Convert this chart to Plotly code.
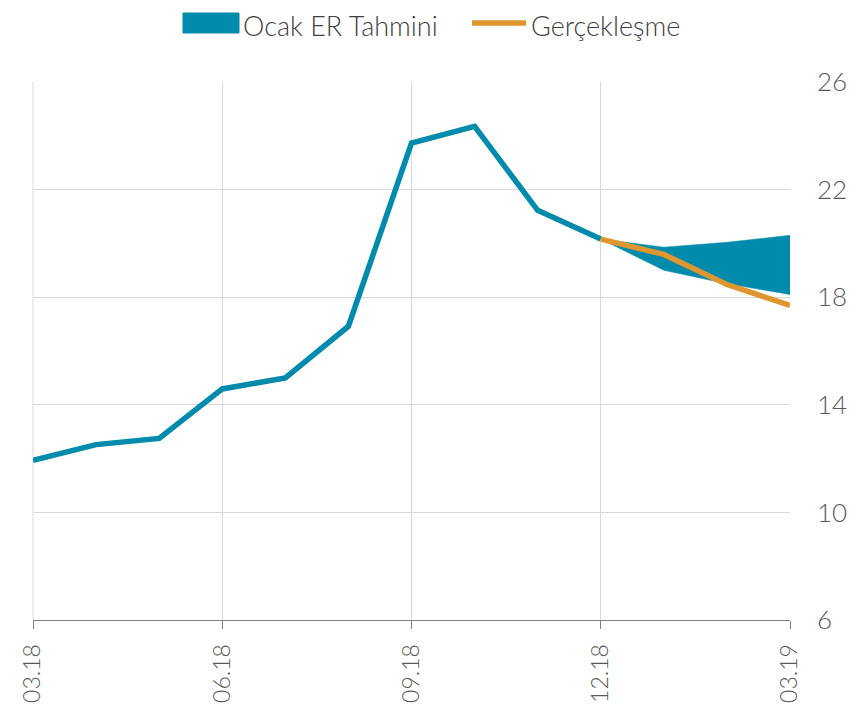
import plotly.graph_objects as go

months = ["03.18", "04.18", "05.18", "06.18", "07.18", "08.18", "09.18",
          "10.18", "11.18", "12.18", "01.19", "02.19", "03.19"]
history = [11.94, 12.52, 12.75, 14.59, 15.0, 16.92, 23.73, 24.35, 21.23, 20.16]
band_months = ["12.18", "01.19", "02.19", "03.19"]
band_upper = [20.16, 19.86, 20.04, 20.30]
band_lower = [20.16, 19.0, 18.5, 18.1]
actual_months = ["12.18", "01.19", "02.19", "03.19"]
actual = [20.16, 19.59, 18.47, 17.7]
tick_labels = ["03.18", "06.18", "09.18", "12.18", "03.19"]
y_ticks = [6, 10, 14, 18, 22, 26]
legend_names = ["Ocak ER Tahmini", "Gerçekleşme"]

BLUE = "#008AAB"
ORANGE = "#E0962F"
TXT = "#595959"
GRID = "#d9d9d9"
FONT = "Lato"

W, H = 864, 710
ML, MR, MT, MB = 25, 82, 74, 98
PW, PH = W - ML - MR, H - MT - MB


def px(x):
    return (x - ML) / PW


def py(y):
    return (H - MB - y) / PH


fig = go.Figure()
fig.add_trace(go.Scatter(
    x=band_months + band_months[::-1],
    y=band_upper + band_lower[::-1],
    fill="toself", fillcolor=BLUE, mode="lines",
    line=dict(color=BLUE, width=0.5),
    name=legend_names[0], hoverinfo="skip", showlegend=False))
fig.add_trace(go.Scatter(
    x=months[:len(history)], y=history, mode="lines",
    line=dict(color=BLUE, width=5.5), showlegend=False))
fig.add_trace(go.Scatter(
    x=actual_months, y=actual, mode="lines",
    line=dict(color=ORANGE, width=5.5), name=legend_names[1],
    showlegend=False))

# left edge grid line (03.18)
fig.add_shape(type="line", xref="paper", yref="paper", layer="below",
              x0=0, x1=0, y0=0, y1=1, line=dict(color=GRID, width=1))

# manual legend (figure-pixel positions converted to paper coords)
LEG_Y = 15
fig.add_shape(type="rect", xref="paper", yref="paper",
              x0=px(175), x1=px(231), y0=py(LEG_Y + 10), y1=py(LEG_Y - 10),
              fillcolor=BLUE, line=dict(color=BLUE, width=1))
fig.add_shape(type="line", xref="paper", yref="paper",
              x0=px(464), x1=px(518), y0=py(LEG_Y), y1=py(LEG_Y),
              line=dict(color=ORANGE, width=5.5))
fig.add_annotation(xref="paper", yref="paper", x=px(234), y=py(0),
                   xanchor="left", yanchor="top", showarrow=False,
                   text=legend_names[0], borderpad=0,
                   font=dict(family=FONT, size=27, color="#404040", weight=300))
fig.add_annotation(xref="paper", yref="paper", x=px(522), y=py(0),
                   xanchor="left", yanchor="top", showarrow=False,
                   text=legend_names[1], borderpad=0,
                   font=dict(family=FONT, size=27, color="#404040", weight=300))

fig.update_layout(
    width=W, height=H,
    margin=dict(l=ML, r=MR, t=MT, b=MB),
    paper_bgcolor="white", plot_bgcolor="white",
    font=dict(family=FONT, size=26, color=TXT, weight=300),
    showlegend=False,
    xaxis=dict(type="category", categoryorder="array", categoryarray=months,
               range=[0, 12], tickmode="array", tickvals=tick_labels,
               ticktext=tick_labels, tickangle=-90,
               showgrid=True, gridcolor=GRID, gridwidth=1,
               showline=True, linecolor="#808080", linewidth=1,
               ticks="outside", ticklen=8, tickcolor="#808080",
               ticklabelstandoff=6, automargin=False,
               zeroline=False, tickfont=dict(family=FONT, size=23, color=TXT, weight=300)),
    yaxis=dict(side="right", range=[6, 26], tickvals=y_ticks,
               showgrid=True, gridcolor=GRID, gridwidth=1,
               zeroline=False, showline=False, ticks="",
               ticklabelstandoff=26, automargin=False,
               tickfont=dict(family=FONT, size=26, color=TXT, weight=300)),
)

fig.write_html("out.html")
